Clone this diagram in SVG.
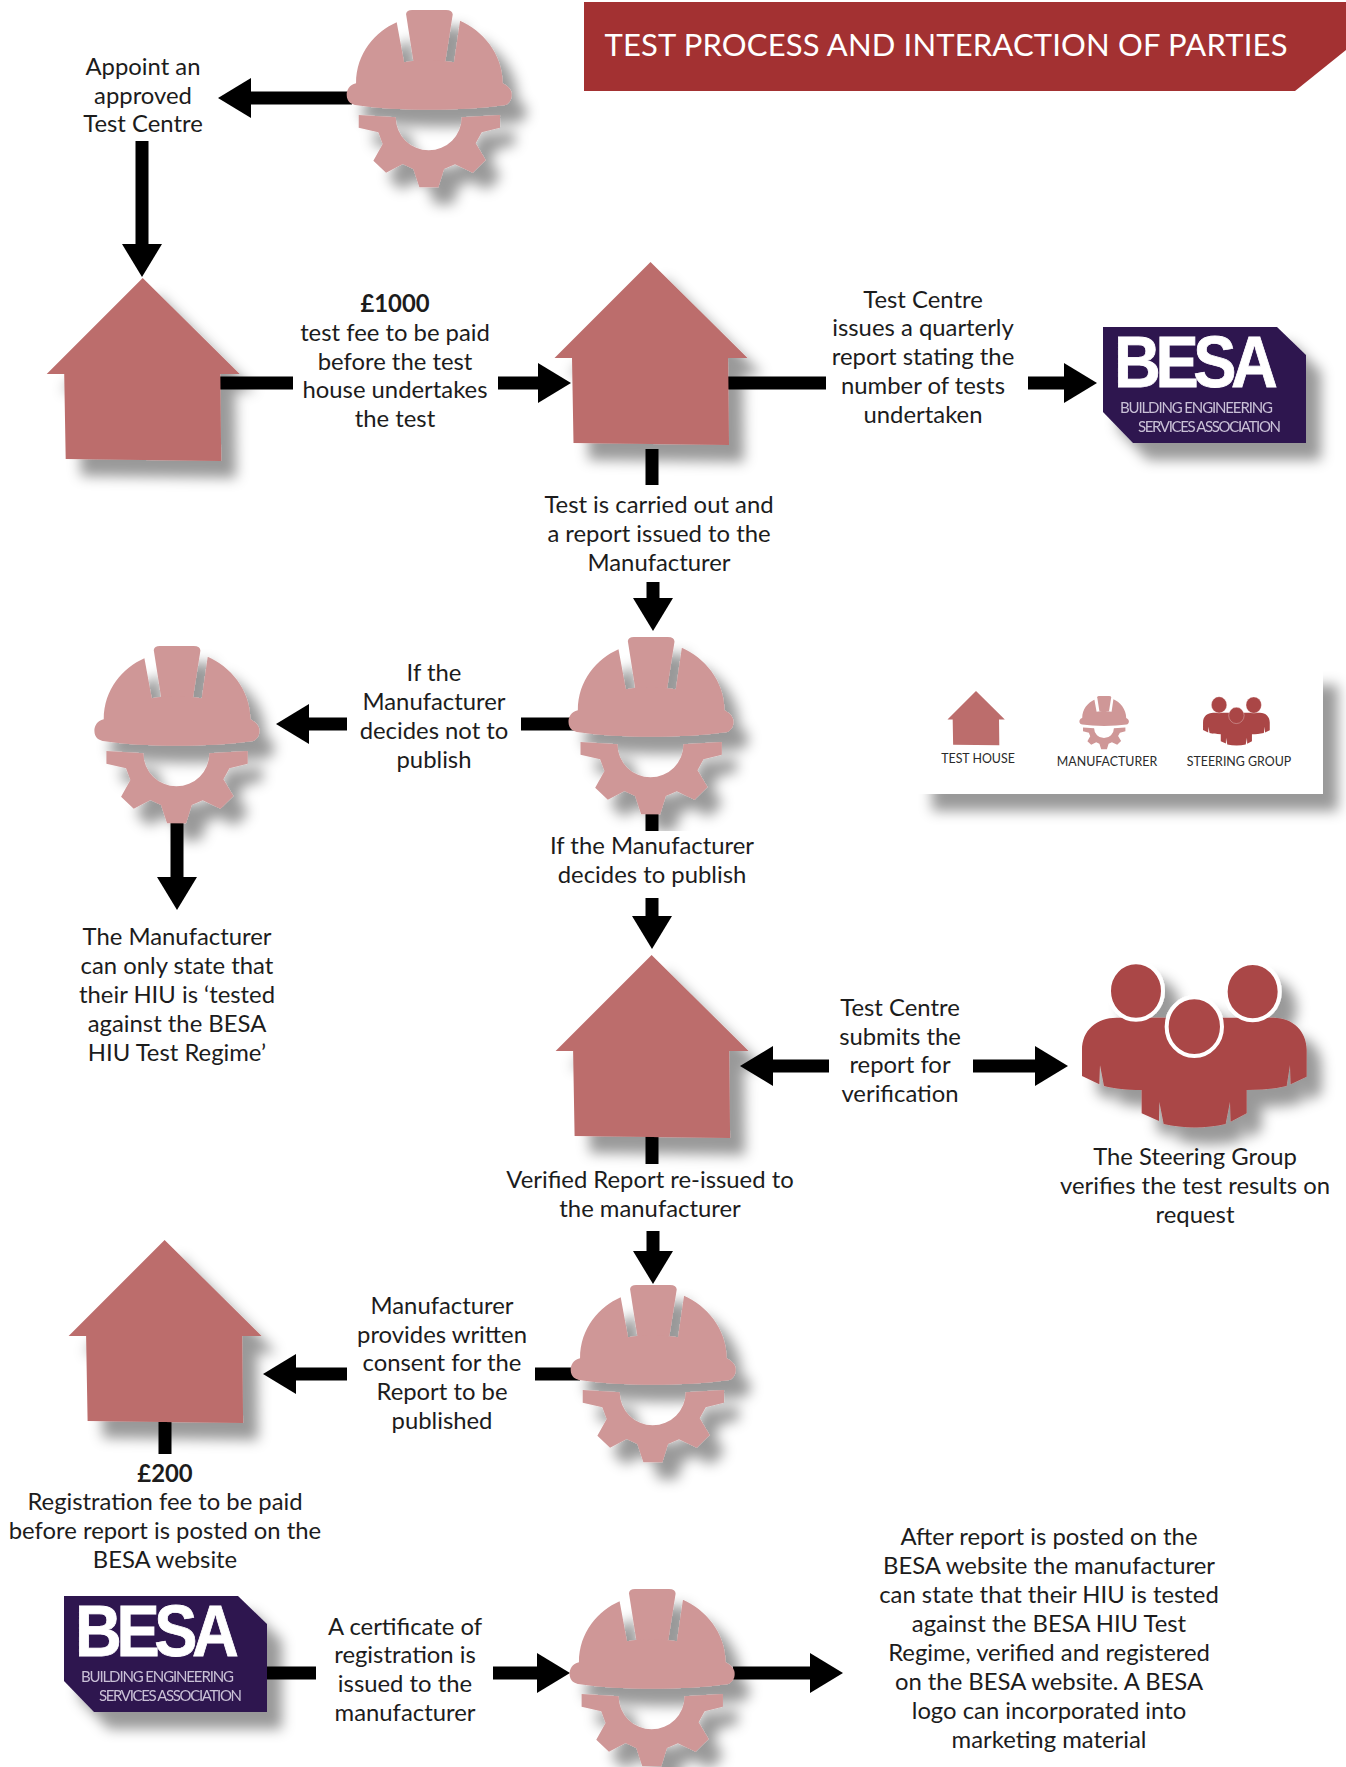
<svg xmlns="http://www.w3.org/2000/svg" width="1346" height="1767" viewBox="0 0 1346 1767">
<style>
.t{font-family:"Lato","Liberation Sans",sans-serif;font-size:23.85px;fill:#1c1c1c;text-anchor:middle}
.b{font-weight:700}
.c{stroke:#000;stroke-width:13;fill:none}
.a{marker-end:url(#ah)}
.l{font-family:"Lato","Liberation Sans",sans-serif;font-size:12.4px;fill:#2a2a2a;text-anchor:middle}
.bs{font-family:"Lato","Liberation Sans",sans-serif;fill:#c9c0d6;font-size:15px}
</style>
<defs>
<filter id="sh" x="-20%" y="-20%" width="160%" height="160%"><feDropShadow dx="15" dy="17" stdDeviation="6.5" flood-color="#000" flood-opacity="0.4"/></filter>
<marker id="ah" markerUnits="userSpaceOnUse" markerWidth="34" markerHeight="44" refX="1" refY="22" orient="auto"><path d="M0 2L33 22L0 42Z" fill="#000"/></marker>
<path id="house" fill="#bc6d6c" d="M0 0L97 96H77.5L78.5 183L-77 181L-78.5 96H-96Z"/>
<g id="helmet" fill="#cf9797">
<path d="M-68 42Q-66 30 -50 30H52Q72 30 72 44L50 183H-46Z"/>
<path d="M-96 67C-160 95-218 160-218 250C-238 255-246 270-246 285C-246 305-232 314-215 316C-100 334 100 334 225 316C240 314 249 300 249 285C249 270 240 260 222 250C222 160 160 90 94 62L76 187C10 178-20 178-74 187Z"/>
<path d="M-210 345L-99 352A99 99 0 0 0 99 352L214 345V383L159 397L141 430L171 480L132 518L79 493L46 507L29 562H-28L-46 507L-78 492L-128 518L-166 482L-138 432L-151 397L-210 383Z"/>
</g>
<path id="gbody" fill="#aa4646" d="M66 378V300C66 240 110 203 170 203H640C700 203 740 245 740 300V380L692 403L690 345L680 408C640 418 600 420 560 420V490L512 515L510 455L497 522C440 536 370 536 311 522L298 455L297 513L245 490V420C200 420 165 416 132 408L120 345L118 403Z"/>
<g id="besa">
<path fill="#2e1650" d="M0 0H174L203 28V116H30L0 85Z"/>
<text transform="translate(11 60) scale(.9 1)" font-family="Liberation Sans" font-weight="700" font-size="72" fill="#fff" stroke="#fff" stroke-width=".8" letter-spacing="-6">BESA</text>
<text class="bs" x="17" y="86" textLength="153">BUILDING ENGINEERING</text>
<text class="bs" x="35" y="105" textLength="143">SERVICES ASSOCIATION</text>
</g>
</defs>
<rect width="1346" height="1767" fill="#fff"/>
<g id="title"><path fill="#a33132" d="M584 2H1346V50L1295 91H584Z"/><text x="946" y="56" font-family="Lato,Liberation Sans,sans-serif" font-size="31" fill="#fff" text-anchor="middle" textLength="683">TEST PROCESS AND INTERACTION OF PARTIES</text></g>
<g id="connectors">
<path class="c a" d="M352 98H250"/><path class="c a" d="M142 141V245"/><path class="c" d="M220 383H293"/><path class="c a" d="M498 383H539"/><path class="c" d="M728 383H826"/><path class="c a" d="M1028 383H1065"/><path class="c" d="M652 449V485"/><path class="c a" d="M653 582V599"/><path class="c" d="M521 724H580"/><path class="c a" d="M347 724H308"/><path class="c a" d="M177 823V878"/><path class="c" d="M652 810V831"/><path class="c a" d="M652 898V917"/><path class="c a" d="M829 1066H772"/><path class="c a" d="M973 1066H1036"/><path class="c" d="M652 1136V1164"/><path class="c a" d="M653 1231V1252"/><path class="c" d="M535 1374H580"/><path class="c a" d="M347 1374H295"/><path class="c" d="M165 1422V1454"/><path class="c" d="M266 1673H316"/><path class="c a" d="M493 1673H538"/><path class="c a" d="M733 1673H811"/>
</g>
<g id="m1" filter="url(#sh)"><use href="#helmet" transform="translate(428.7 0) scale(.3333)"/></g>
<g id="m2" filter="url(#sh)"><use href="#helmet" transform="translate(650.5 627) scale(.3333)"/></g>
<g id="m3" filter="url(#sh)"><use href="#helmet" transform="translate(176.4 636) scale(.3333)"/></g>
<g id="m4" filter="url(#sh)"><use href="#helmet" transform="translate(652.7 1275) scale(.3333)"/></g>
<g id="m5" filter="url(#sh)"><use href="#helmet" transform="translate(651.6 1579) scale(.3333)"/></g>
<rect x="545" y="831" width="220" height="60" fill="#fff"/>
<g id="h1" filter="url(#sh)"><use href="#house" x="142.7" y="278"/></g>
<g id="h2" filter="url(#sh)"><use href="#house" x="650.5" y="262"/></g>
<g id="h3" filter="url(#sh)"><use href="#house" x="651.6" y="955"/></g>
<g id="h4" filter="url(#sh)"><use href="#house" x="164.6" y="1240"/></g>
<g id="besa1" filter="url(#sh)"><use href="#besa" x="1103" y="327"/></g>
<g id="besa2" filter="url(#sh)"><use href="#besa" x="64" y="1596"/></g>
<g id="steering" filter="url(#sh)"><g transform="translate(1060 950) scale(.3333)"><use href="#gbody"/><g fill="#aa4646" stroke="#fff" stroke-width="12"><ellipse cx="228" cy="123" rx="81" ry="86"/><ellipse cx="578" cy="125" rx="81" ry="86"/><ellipse cx="403" cy="230" rx="83" ry="88"/></g></g></g>
<g id="legend">
<rect x="917" y="668" width="406" height="126" fill="#fff" filter="url(#sh)"/>
<use href="#house" transform="translate(976 691) scale(.297)"/>
<use href="#helmet" transform="translate(1104 693) scale(.1)"/>
<g transform="translate(1196.5 692.7) scale(.099)"><use href="#gbody"/><g fill="#aa4646" stroke="#fff" stroke-width="3"><ellipse cx="228" cy="123" rx="78" ry="82"/><ellipse cx="578" cy="125" rx="78" ry="82"/><ellipse cx="403" cy="230" rx="78" ry="82"/></g></g>
<text class="l" x="978" y="763">TEST HOUSE</text><text class="l" x="1107" y="766">MANUFACTURER</text><text class="l" x="1239" y="766">STEERING GROUP</text>
</g>
<g id="labels">
<text class="t"><tspan x="143" y="75">Appoint an</tspan><tspan x="143" y="104">approved</tspan><tspan x="143" y="132">Test Centre</tspan></text>
<text class="t"><tspan class="b" x="395" y="312">£1000</tspan><tspan x="395" y="341">test fee to be paid</tspan><tspan x="395" y="370">before the test</tspan><tspan x="395" y="398">house undertakes</tspan><tspan x="395" y="427">the test</tspan></text>
<text class="t"><tspan x="923" y="308">Test Centre</tspan><tspan x="923" y="336">issues a quarterly</tspan><tspan x="923" y="365">report stating the</tspan><tspan x="923" y="394">number of tests</tspan><tspan x="923" y="423">undertaken</tspan></text>
<text class="t"><tspan x="659" y="513">Test is carried out and</tspan><tspan x="659" y="542">a report issued to the</tspan><tspan x="659" y="571">Manufacturer</tspan></text>
<text class="t"><tspan x="434" y="681">If the</tspan><tspan x="434" y="710">Manufacturer</tspan><tspan x="434" y="739">decides not to</tspan><tspan x="434" y="768">publish</tspan></text>
<text class="t"><tspan x="652" y="854">If the Manufacturer</tspan><tspan x="652" y="883">decides to publish</tspan></text>
<text class="t"><tspan x="177" y="945">The Manufacturer</tspan><tspan x="177" y="974">can only state that</tspan><tspan x="177" y="1003">their HIU is ‘tested</tspan><tspan x="177" y="1032">against the BESA</tspan><tspan x="177" y="1061">HIU Test Regime’</tspan></text>
<text class="t"><tspan x="900" y="1016">Test Centre</tspan><tspan x="900" y="1045">submits the</tspan><tspan x="900" y="1073">report for</tspan><tspan x="900" y="1102">verification</tspan></text>
<text class="t"><tspan x="650" y="1188">Verified Report re-issued to</tspan><tspan x="650" y="1217">the manufacturer</tspan></text>
<text class="t"><tspan x="1195" y="1165">The Steering Group</tspan><tspan x="1195" y="1194">verifies the test results on</tspan><tspan x="1195" y="1223">request</tspan></text>
<text class="t"><tspan x="442" y="1314">Manufacturer</tspan><tspan x="442" y="1343">provides written</tspan><tspan x="442" y="1371">consent for the</tspan><tspan x="442" y="1400">Report to be</tspan><tspan x="442" y="1429">published</tspan></text>
<text class="t"><tspan class="b" x="165" y="1482">£200</tspan><tspan x="165" y="1510">Registration fee to be paid</tspan><tspan x="165" y="1539">before report is posted on the</tspan><tspan x="165" y="1568">BESA website</tspan></text>
<text class="t"><tspan x="405" y="1635">A certificate of</tspan><tspan x="405" y="1663">registration is</tspan><tspan x="405" y="1692">issued to the</tspan><tspan x="405" y="1721">manufacturer</tspan></text>
<text class="t"><tspan x="1049" y="1545">After report is posted on the</tspan><tspan x="1049" y="1574">BESA website the manufacturer</tspan><tspan x="1049" y="1603">can state that their HIU is tested</tspan><tspan x="1049" y="1632">against the BESA HIU Test</tspan><tspan x="1049" y="1661">Regime, verified and registered</tspan><tspan x="1049" y="1690">on the BESA website. A BESA</tspan><tspan x="1049" y="1719">logo can incorporated into</tspan><tspan x="1049" y="1748">marketing material</tspan></text>
</g>
</svg>
